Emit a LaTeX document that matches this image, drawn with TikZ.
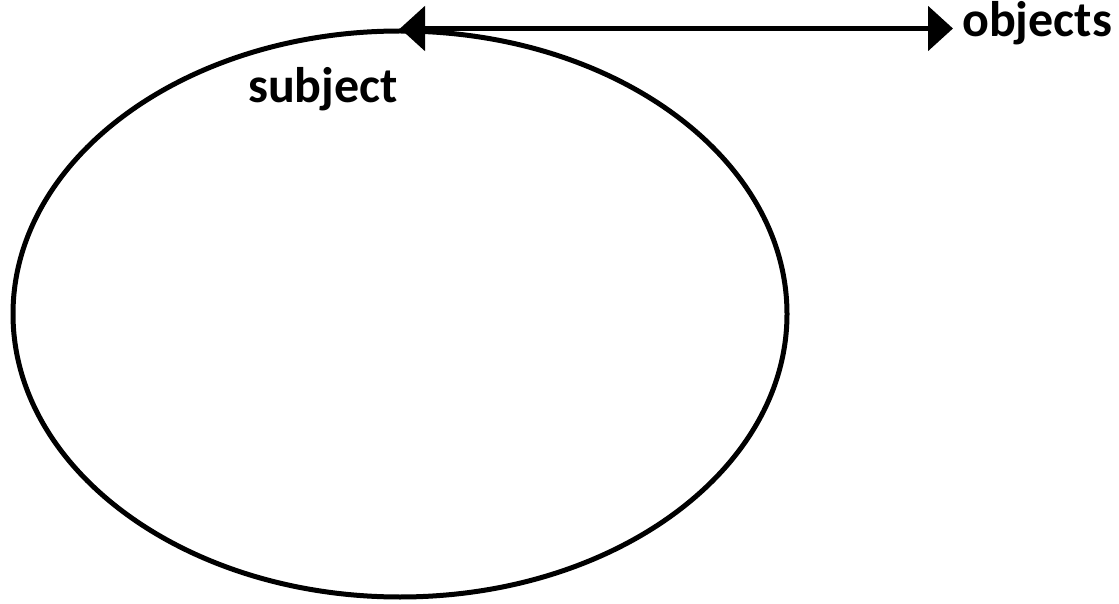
\documentclass[tikz,border=0pt]{standalone}
\usepackage{fontspec}
\setmainfont{Carlito}
\usetikzlibrary{shapes.geometric,arrows.meta}
\tikzset{
  lbl/.style={font=\bfseries\fontsize{50}{60}\selectfont, inner sep=0pt},
  ring/.style={draw, ellipse, line width=5pt, inner sep=0pt, minimum width=774pt, minimum height=566pt},
  dbl/.style={line width=5.5pt, {Triangle[length=25pt,width=44pt]}-{Triangle[length=25pt,width=44pt]}}
}
\begin{document}
\begin{tikzpicture}[x=1pt,y=1pt]
\useasboundingbox (0,0) rectangle (1119,603);
\node[ring] (ell) at (400,289) {};
\node[lbl, anchor=base west] (obj) at (962,566) {objects};
\node[lbl, anchor=base] (subj) at (323,500) {subject};
\coordinate (top) at (ell.north);
\coordinate (end) at (953,0 |- top);
\draw[dbl] (top) -- (end);
\end{tikzpicture}
\end{document}
